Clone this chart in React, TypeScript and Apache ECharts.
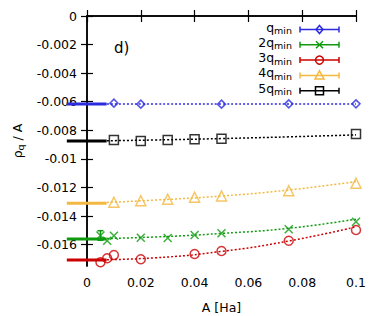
import React, { useEffect, useRef } from "react";
import * as echarts from "echarts";

const xTicks = [0, 0.02, 0.04, 0.06, 0.08, 0.1];
const yTicks = [0, -0.002, -0.004, -0.006, -0.008, -0.01, -0.012, -0.014, -0.016];

const legendLabels = ["q", "2q", "3q", "4q", "5q"];

// data points
const blueX = [0.01, 0.02, 0.05, 0.075, 0.1];
const blueY = [-0.0061, -0.00617, -0.00617, -0.00615, -0.00615];
const greenX = [0.005, 0.0075, 0.01, 0.02, 0.03, 0.04, 0.05, 0.075, 0.1];
const greenY = [-0.01537, -0.01573, -0.01538, -0.01552, -0.01554, -0.01533, -0.01521, -0.01493, -0.0144];
const redX = [0.005, 0.0075, 0.01, 0.02, 0.04, 0.05, 0.075, 0.1];
const redY = [-0.01724, -0.01696, -0.01673, -0.01703, -0.01666, -0.01645, -0.01573, -0.01498];
const yellowX = [0.01, 0.02, 0.03, 0.04, 0.05, 0.075, 0.1];
const yellowY = [-0.01304, -0.01293, -0.01283, -0.01269, -0.0126, -0.01223, -0.01171];
const blackX = [0.01, 0.02, 0.03, 0.04, 0.05, 0.1];
const blackY = [-0.00868, -0.00875, -0.00868, -0.00863, -0.0086, -0.00826];

// green error bar
const greenErrX = [0.005];
const greenErrLo = [-0.0157];
const greenErrHi = [-0.01503];

// fit curves
const fitX = [0, 0.025, 0.05, 0.075, 0.1];
const blueFit = [-0.00616, -0.00616, -0.00616, -0.00616, -0.00616];
const greenFit = [-0.01561, -0.01547, -0.01522, -0.01486, -0.01422];
const redFit = [-0.01708, -0.01693, -0.01648, -0.01575, -0.01476];
const yellowFit = [-0.01311, -0.01289, -0.0126, -0.01218, -0.01159];
const blackFit = [-0.00875, -0.00868, -0.00858, -0.00846, -0.00832];

// extrapolated values (thick lines at A -> 0)
const extrapX = [-0.0075, 0.0073];
const extrapValues = [-0.00616, -0.01561, -0.01708, -0.01311, -0.00875];

const COLORS = ["#2b2be0", "#0f9a0f", "#cc0000", "#f4b740", "#000000"];
const FONT = "DejaVu Sans";

const zip = (xs: number[], ys: number[]) => xs.map((x, i) => [x, ys[i]]);

export default function App() {
  const ref = useRef<HTMLDivElement>(null);
  useEffect(() => {
    if (!ref.current) return;
    const chart = echarts.init(ref.current, undefined, { renderer: "svg" });
    const groups = [
      { x: blueX, y: blueY, fit: blueFit, symbol: "diamond", size: 8 },
      { x: greenX, y: greenY, fit: greenFit, symbol: "path://M0,0L10,10M10,0L0,10", size: 8 },
      { x: redX, y: redY, fit: redFit, symbol: "circle", size: 9 },
      { x: yellowX, y: yellowY, fit: yellowFit, symbol: "triangle", size: 10 },
      { x: blackX, y: blackY, fit: blackFit, symbol: "rect", size: 9 },
    ];
    const series: any[] = [];
    groups.forEach((g, i) => {
      series.push({
        type: "line",
        data: zip(fitX, g.fit),
        smooth: true,
        showSymbol: false,
        symbol: "none",
        lineStyle: { color: COLORS[i], width: 1.5, type: [2, 2] },
        z: 2,
      });
    });
    groups.forEach((g, i) => {
      series.push({
        type: "scatter",
        data: zip(g.x, g.y),
        symbol: g.symbol,
        symbolSize: g.size,
        itemStyle: { color: "rgba(0,0,0,0)", borderColor: COLORS[i], borderWidth: 1.5 },
        z: 3,
      });
    });
    series.push({
      type: "custom",
      data: greenErrX.map((x, i) => [x, greenErrLo[i], greenErrHi[i]]),
      renderItem: (params: any, api: any) => {
        const lo = api.coord([api.value(0), api.value(1)]);
        const hi = api.coord([api.value(0), api.value(2)]);
        const st = { stroke: COLORS[1], lineWidth: 1.5 };
        return {
          type: "group",
          children: [
            { type: "line", shape: { x1: lo[0], y1: lo[1], x2: hi[0], y2: hi[1] }, style: st },
            { type: "line", shape: { x1: lo[0] - 3, y1: lo[1], x2: lo[0] + 3, y2: lo[1] }, style: st },
            { type: "line", shape: { x1: hi[0] - 3, y1: hi[1], x2: hi[0] + 3, y2: hi[1] }, style: st },
          ],
        };
      },
      z: 3,
    });
    series.push({
      type: "custom",
      clip: false,
      data: extrapValues.map((v, i) => [extrapX[0], extrapX[1], v, i]),
      renderItem: (params: any, api: any) => {
        const a = api.coord([api.value(0), api.value(2)]);
        const b = api.coord([api.value(1), api.value(2)]);
        return {
          type: "line",
          shape: { x1: a[0], y1: a[1], x2: b[0], y2: a[1] },
          style: { stroke: COLORS[api.value(3)], lineWidth: 3 },
        };
      },
      z: 4,
    });

    // legend graphics
    const legendRows = [29.5, 44.8, 60.1, 75.4, 90.7];
    const graphic: any[] = [];
    legendRows.forEach((y, i) => {
      const c = COLORS[i];
      const st = { stroke: c, lineWidth: 1.5, fill: "none" };
      graphic.push({
        type: "text",
        right: 382 - 292,
        top: y - 9,
        style: {
          text: `{n|${legendLabels[i]}}{s|min}`,
          fontFamily: FONT,
          fill: "#000",
          rich: {
            n: { fontSize: 12.5, fontFamily: FONT, fill: "#000" },
            s: { fontSize: 9.5, fontFamily: FONT, fill: "#000", padding: [7, 0, 0, 0] },
          },
        },
      });
      graphic.push({ type: "line", shape: { x1: 300, y1: y, x2: 339, y2: y }, style: { stroke: c, lineWidth: 1.5 } });
      graphic.push({ type: "line", shape: { x1: 300, y1: y - 3, x2: 300, y2: y + 3 }, style: { stroke: c, lineWidth: 1.5 } });
      graphic.push({ type: "line", shape: { x1: 339, y1: y - 3, x2: 339, y2: y + 3 }, style: { stroke: c, lineWidth: 1.5 } });
      const mx = 319.5;
      if (i === 0) graphic.push({ type: "polygon", shape: { points: [[mx, y - 4], [mx + 3.5, y], [mx, y + 4], [mx - 3.5, y]] }, style: st });
      if (i === 1) {
        graphic.push({ type: "line", shape: { x1: mx - 3.5, y1: y - 3.5, x2: mx + 3.5, y2: y + 3.5 }, style: st });
        graphic.push({ type: "line", shape: { x1: mx - 3.5, y1: y + 3.5, x2: mx + 3.5, y2: y - 3.5 }, style: st });
      }
      if (i === 2) graphic.push({ type: "circle", shape: { cx: mx, cy: y, r: 4 }, style: st });
      if (i === 3) graphic.push({ type: "polygon", shape: { points: [[mx, y - 4.5], [mx + 4.5, y + 3.5], [mx - 4.5, y + 3.5]] }, style: st });
      if (i === 4) graphic.push({ type: "rect", shape: { x: mx - 4, y: y - 4, width: 8, height: 8 }, style: st });
    });
    graphic.push({
      type: "text",
      left: 114,
      top: 40,
      style: { text: "d)", fontFamily: FONT, fontSize: 15, fill: "#000" },
    });

    const axisCommon = {
      axisLine: { show: true, lineStyle: { color: "#000", width: 1.5 } },
      splitLine: { show: false },
    };

    chart.setOption({
      animation: false,
      backgroundColor: "#fff",
      textStyle: { fontFamily: FONT },
      grid: { left: 87, right: 26, top: 16, bottom: 50, containLabel: false, outerBoundsMode: "none" },
      xAxis: [
        {
          type: "value",
          min: 0,
          max: 0.1,
          interval: 0.02,
          ...axisCommon,
          axisTick: { show: true, inside: true, length: 6, lineStyle: { color: "#000", width: 1.2 } },
          axisLabel: { fontSize: 12.5, color: "#000", margin: 10, fontFamily: FONT },
          name: "A [Ha]",
          nameLocation: "middle",
          nameGap: 35,
          nameTextStyle: { fontSize: 12.5, color: "#000", fontFamily: FONT },
        },
        {
          type: "value",
          position: "top",
          min: 0,
          max: 0.1,
          interval: 0.02,
          ...axisCommon,
          axisTick: { show: true, inside: true, length: 6, lineStyle: { color: "#000", width: 1.2 } },
          axisLabel: { show: false },
        },
      ],
      yAxis: [
        {
          type: "value",
          min: -0.0175,
          max: 0,
          ...axisCommon,
          axisTick: { show: true, inside: true, length: 6, customValues: yTicks, lineStyle: { color: "#000", width: 1.2 } },
          axisLabel: { fontSize: 12.5, color: "#000", margin: 10, customValues: yTicks, fontFamily: FONT },
          name: "{a|ρ}{b|q}{a| / A}",
          nameLocation: "middle",
          nameGap: 62,
          nameTextStyle: {
            fontSize: 12.5,
            color: "#000",
            fontFamily: FONT,
            rich: {
              a: { fontSize: 12.5, fontFamily: FONT, color: "#000" },
              b: { fontSize: 9.5, fontFamily: FONT, color: "#000", padding: [6, 0, 0, 0] },
            },
          },
        },
        {
          type: "value",
          position: "right",
          min: -0.0175,
          max: 0,
          ...axisCommon,
          axisTick: { show: true, inside: true, length: 6, customValues: yTicks, lineStyle: { color: "#000", width: 1.2 } },
          axisLabel: { show: false, customValues: yTicks },
        },
      ],
      graphic,
      series,
    });
    return () => chart.dispose();
  }, []);
  return <div ref={ref} style={{ position: "fixed", left: 0, top: 0, width: 382, height: 316 }} />;
}
